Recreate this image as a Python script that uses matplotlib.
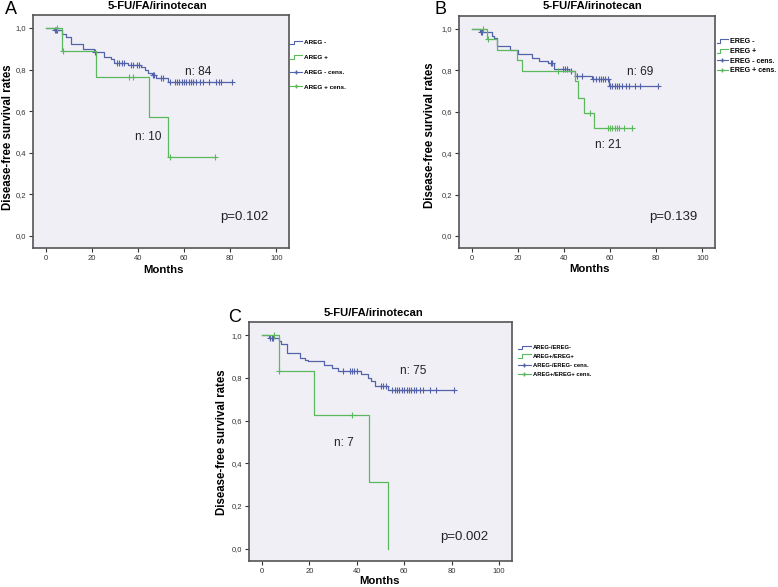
import numpy as np
import matplotlib
matplotlib.use("Agg")
import matplotlib.pyplot as plt
from matplotlib.lines import Line2D
from matplotlib.legend_handler import HandlerBase

plt.rcParams['font.family'] = ['Liberation Sans', 'DejaVu Sans']

W, H = 778, 587

# ---------------- data ----------------
title = "5-FU/FA/irinotecan"
xticks = [0, 20, 40, 60, 80, 100]
yticks = [0.0, 0.2, 0.4, 0.6, 0.8, 1.0]
ytick_labels = ["0,0", "0,2", "0,4", "0,6", "0,8", "1,0"]

# Panel A
a_neg_t = [0, 3.5, 7, 9, 11, 16, 21, 25.5, 28.5, 29.5, 35.5, 41.5, 43, 44.5, 46, 48, 53]
a_neg_s = [1.0, 0.988, 0.97, 0.955, 0.925, 0.898, 0.883, 0.862, 0.849, 0.83, 0.82, 0.81, 0.798, 0.785, 0.774, 0.758, 0.74]
a_neg_end = 81
a_neg_cens = [4, 4.5, 5, 21.5, 31, 32, 33, 34, 37, 38, 39.5, 40.5, 46.5, 47, 50, 51, 54, 56, 57, 58, 59,
              60, 61, 62, 63, 64, 65, 67, 68, 71, 74, 75, 76, 81]
a_pos_t = [0, 7, 22, 45, 53]
a_pos_s = [1.0, 0.889, 0.762, 0.571, 0.381]
a_pos_end = 73.5
a_pos_cens = [5, 7.3, 36, 38, 54, 73.5]

# Panel B
b_neg_t = [0, 3.5, 8.7, 9.5, 11, 16.6, 20, 26, 29, 33.3, 35.5, 42, 45, 52, 59.5]
b_neg_s = [1.0, 0.987, 0.966, 0.955, 0.918, 0.9, 0.88, 0.859, 0.846, 0.835, 0.806, 0.795, 0.774, 0.758, 0.726]
b_neg_end = 81
b_neg_cens = [4, 4.5, 34.2, 34.8, 39.5, 40.5, 41.5, 43, 45.5, 48, 52.5, 54, 55, 56, 57, 58, 59,
              60, 61, 62, 63, 64, 65, 67, 68, 71, 73, 81]
b_pos_t = [0, 6.5, 11, 19.5, 22, 45, 46, 48.5, 53]
b_pos_s = [1.0, 0.95, 0.9, 0.85, 0.795, 0.75, 0.665, 0.595, 0.52]
b_pos_end = 69.6
b_pos_cens = [5, 7.2, 37.6, 51.4, 59, 60, 61, 62, 63, 64, 66, 69.6]

# Panel C
c_neg_t = [0, 2.8, 7, 8.1, 10.5, 16, 18, 19.6, 26, 29.4, 32, 41.7, 44.7, 46, 47.5, 53]
c_neg_s = [1.0, 0.988, 0.974, 0.961, 0.918, 0.895, 0.883, 0.877, 0.86, 0.846, 0.834, 0.818, 0.80, 0.787, 0.76, 0.745]
c_neg_end = 81
c_neg_cens = [3.5, 4, 4.8, 34, 37, 38, 39, 40, 50, 51, 52.4, 55, 56, 57, 58, 59, 60, 61, 62, 63, 64, 65,
              66.6, 68, 71, 73.5, 81]
c_pos_t = [0, 7, 22, 45, 53]
c_pos_s = [1.0, 0.833, 0.625, 0.3125, 0.0]
c_pos_end = 53
c_pos_cens = [5, 7.3, 38]

# ---------------- style ----------------
BLUE = '#5363aa'
GREEN = '#5cb85c'
BG = '#f1eff6'
SPINE = '#555555'

fig = plt.figure(figsize=(W / 100, H / 100), dpi=100)


def px_axes(l, t, r, b):
    return fig.add_axes([l / W, 1 - b / H, (r - l) / W, (b - t) / H])


def km(ax, t, s, end, cens, color):
    tt = list(t) + [end]
    ss = list(s) + [s[-1]]
    ax.step(tt, ss, where='post', color=color, lw=0.9)
    idx = np.searchsorted(np.array(t), np.array(cens), side='right') - 1
    cy = np.array(s)[idx]
    ax.plot(cens, cy, ls='none', marker='+', ms=3.8, mew=0.8, color=color)


class StepHandler(HandlerBase):
    def create_artists(self, legend, orig_handle, xdescent, ydescent, width, height, fontsize, trans):
        x0 = -xdescent
        y0 = -ydescent
        xs = [x0, x0 + 0.3 * width, x0 + 0.3 * width, x0 + width]
        ys = [y0 + 0.05 * height, y0 + 0.05 * height, y0 + 0.85 * height, y0 + 0.85 * height]
        ln = Line2D(xs, ys, color=orig_handle.get_color(), lw=0.8, transform=trans)
        return [ln]


def style_axes(ax):
    ax.set_facecolor(BG)
    ax.set_xlim(-5.5, 105.5)
    ax.set_ylim(-0.058, 1.062)
    ax.set_xticks(xticks)
    ax.set_xticklabels([str(v) for v in xticks])
    ax.set_yticks(yticks)
    ax.set_yticklabels(ytick_labels)
    ax.tick_params(direction='out', length=3, width=0.8, pad=2, labelsize=5.5,
                   colors='#333333')
    for sp in ax.spines.values():
        sp.set_color(SPINE)
        sp.set_linewidth(1.2)


def panel(box, negdata, posdata, labels, leg, texts, letter, title_xy, ylab_xy, xlab_xy):
    ax = px_axes(*box)
    style_axes(ax)
    km(ax, *negdata, BLUE)
    km(ax, *posdata, GREEN)
    for (s, x, y, fs) in texts:
        ax.text(x, y, s, fontsize=fs, ha='center', va='center', color='#222222')
    handles = [Line2D([], [], color=BLUE, lw=0.8), Line2D([], [], color=GREEN, lw=0.8),
               Line2D([], [], color=BLUE, lw=0.8, marker='+', ms=3.5),
               Line2D([], [], color=GREEN, lw=0.8, marker='+', ms=3.5)]
    lx, ly, lfs, lsp, hl = leg
    ax.legend(handles, labels, loc='upper left', bbox_to_anchor=(lx / W, 1 - ly / H),
              bbox_transform=fig.transFigure, frameon=False, borderaxespad=0, borderpad=0,
              prop={'size': lfs, 'weight': 'bold'}, labelspacing=lsp, handlelength=hl,
              handletextpad=0.3, handler_map={handles[0]: StepHandler(), handles[1]: StepHandler()})
    fig.text(letter[1] / W, 1 - letter[2] / H, letter[0], fontsize=13, ha='center', va='center')
    fig.text(title_xy[0] / W, 1 - title_xy[1] / H, title, fontsize=8.1, fontweight='bold',
             ha='center', va='center')
    fig.text(ylab_xy[0] / W, 1 - ylab_xy[1] / H, "Disease-free survival rates", fontsize=8.3,
             fontweight='bold', rotation=90, ha='center', va='center')
    fig.text(xlab_xy[0] / W, 1 - xlab_xy[1] / H, "Months", fontsize=8.2, fontweight='bold',
             ha='center', va='center')
    return ax


panel((33, 15, 289, 248),
      (a_neg_t, a_neg_s, a_neg_end, a_neg_cens), (a_pos_t, a_pos_s, a_pos_end, a_pos_cens),
      ["AREG -", "AREG +", "AREG - cens.", "AREG + cens."],
      (290, 40, 4.6, 1.45, 1.9),
      [("n: 84", 66, 0.79, 8.6), ("n: 10", 44.4, 0.475, 8.6), ("p=0.102", 86, 0.09, 9.5)],
      ("A", 11, 9), (157, 6), (8, 137), (163, 270))

panel((459, 16, 715, 248),
      (b_neg_t, b_neg_s, b_neg_end, b_neg_cens), (b_pos_t, b_pos_s, b_pos_end, b_pos_cens),
      ["EREG -", "EREG +", "EREG - cens.", "EREG + cens."],
      (717, 38, 5.1, 0.4, 1.5),
      [("n: 69", 73.2, 0.79, 8.6), ("n: 21", 59, 0.44, 8.6), ("p=0.139", 87.4, 0.093, 9.5)],
      ("B", 441, 9), (592, 6), (430, 135), (590, 269))

panel((249, 322, 512, 561),
      (c_neg_t, c_neg_s, c_neg_end, c_neg_cens), (c_pos_t, c_pos_s, c_pos_end, c_pos_cens),
      ["AREG-/EREG-", "AREG+/EREG+", "AREG-/EREG- cens.", "AREG+/EREG+ cens."],
      (518, 345, 4.2, 0.65, 2.2),
      [("n: 75", 63.9, 0.832, 8.6), ("n: 7", 34.5, 0.496, 8.6), ("p=0.002", 85.3, 0.056, 9.5)],
      ("C", 235, 318), (373, 313), (222, 442), (380, 581))

fig.savefig("out.png", dpi=100, facecolor='white')
